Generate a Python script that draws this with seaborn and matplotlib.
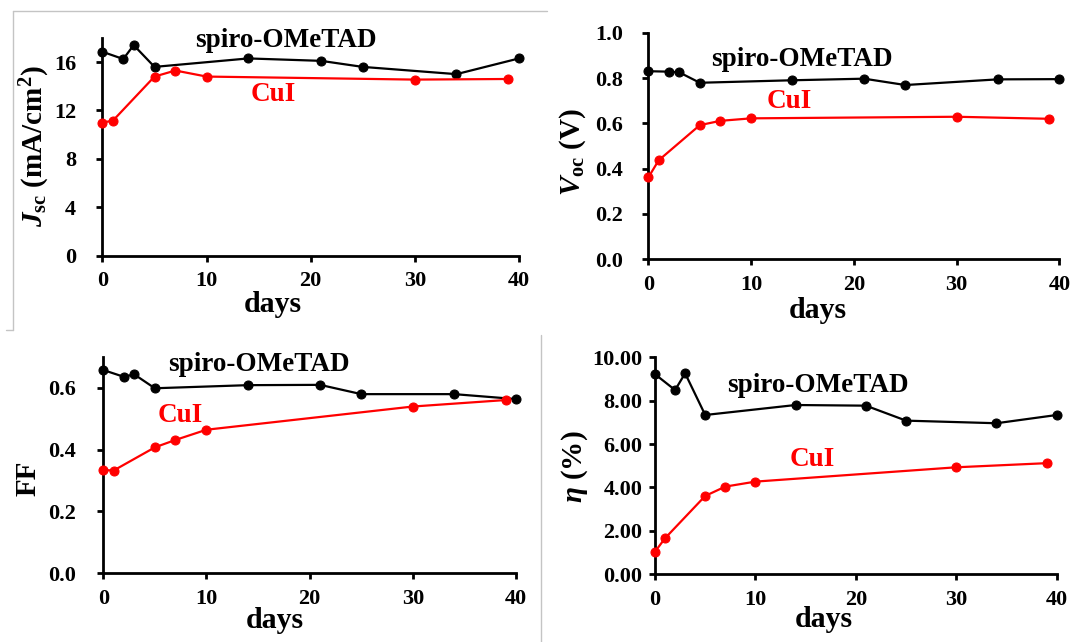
import matplotlib
matplotlib.use("Agg")
import matplotlib.pyplot as plt
import seaborn as sns
from matplotlib.lines import Line2D

# ---------------- data ----------------
spiro_days = [0, 2, 3, 5, 14, 21, 25, 34, 40]
cui_days = [0, 1, 5, 7, 10, 30, 39]

spiro_jsc = [16.85, 16.25, 17.4, 15.6, 16.3, 16.1, 15.6, 15.0, 16.3]
cui_jsc = [11.0, 11.15, 14.8, 15.3, 14.8, 14.55, 14.6]

spiro_voc = [0.83, 0.828, 0.825, 0.779, 0.79, 0.797, 0.769, 0.794, 0.795]
cui_voc = [0.362, 0.437, 0.592, 0.611, 0.622, 0.629, 0.62]

spiro_ff = [0.657, 0.635, 0.643, 0.598, 0.608, 0.609, 0.579, 0.579, 0.563]
cui_ff = [0.334, 0.332, 0.407, 0.431, 0.464, 0.539, 0.56]

spiro_eta = [9.22, 8.49, 9.26, 7.34, 7.80, 7.77, 7.08, 6.96, 7.34]
cui_eta = [1.04, 1.66, 3.61, 4.04, 4.27, 4.93, 5.12]

x_ticks = [0, 10, 20, 30, 40]
series_names = ["spiro-OMeTAD", "CuI"]

# ---------------- style ----------------
sns.set_style("white")
plt.rcParams["font.family"] = ["Liberation Serif", "DejaVu Serif"]
plt.rcParams["font.weight"] = "bold"
plt.rcParams["text.color"] = "black"
plt.rcParams["axes.labelcolor"] = "black"
plt.rcParams["mathtext.fontset"] = "custom"
plt.rcParams["mathtext.rm"] = "Liberation Serif:bold"
plt.rcParams["mathtext.it"] = "Liberation Serif:bold:italic"
plt.rcParams["mathtext.bf"] = "Liberation Serif:bold"

fig = plt.figure(figsize=(10.75, 6.42), dpi=100)
fig.patch.set_facecolor("white")

panels = [
    dict(rect=[0.0953, 0.602, 0.3874, 0.339], spiro=spiro_jsc, cui=cui_jsc,
         ylim=(0, 18), yticks=[0, 4, 8, 12, 16], fmt="{:.0f}",
         ylabel=r"$J_{\mathrm{sc}}$ (mA/cm$^{\mathrm{2}}$)", ylab=(-0.162, 0.5),
         ypad=14.5, spiro_txt=(17.6, 17.8), cui_txt=(16.4, 13.3), xlab=(0.41, -0.225)),
    dict(rect=[0.6032, 0.5961, 0.3823, 0.353], spiro=spiro_voc, cui=cui_voc,
         ylim=(0, 1.0), yticks=[0, 0.2, 0.4, 0.6, 0.8, 1.0], fmt="{:.1f}",
         ylabel=r"$V_{\mathrm{oc}}$ (V)", ylab=(-0.185, 0.475),
         ypad=14.0, spiro_txt=(14.9, 0.883), cui_txt=(13.7, 0.695), xlab=(0.413, -0.224)),
    dict(rect=[0.096, 0.107, 0.3842, 0.3374], spiro=spiro_ff, cui=cui_ff,
         ylim=(0, 0.7), yticks=[0, 0.2, 0.4, 0.6], fmt="{:.1f}",
         ylabel="FF", ylab=(-0.181, 0.44),
         ypad=15.0, spiro_txt=(15.1, 0.675), cui_txt=(7.5, 0.511), xlab=(0.415, -0.216)),
    dict(rect=[0.6093, 0.1055, 0.3737, 0.338], spiro=spiro_eta, cui=cui_eta,
         ylim=(0, 10), yticks=[0, 2, 4, 6, 8, 10], fmt="{:.2f}",
         ylabel=r"$\eta$ (%)", ylab=(-0.20, 0.496),
         ypad=4.5, spiro_txt=(16.25, 8.72), cui_txt=(15.7, 5.27), xlab=(0.419, -0.21)),
]

for p in panels:
    ax = fig.add_axes(p["rect"])
    ax.set_facecolor("none")
    sns.lineplot(x=spiro_days, y=p["spiro"], ax=ax, color="black", marker="o",
                 markersize=6.5, markeredgecolor="black", linewidth=1.6,
                 clip_on=False, zorder=3)
    sns.lineplot(x=cui_days, y=p["cui"], ax=ax, color="#ff0000", marker="o",
                 markersize=6.5, markeredgecolor="#ff0000", linewidth=1.6,
                 clip_on=False, zorder=3)
    ax.set_xlim(0, 40)
    ax.set_ylim(*p["ylim"])
    ax.set_xticks(x_ticks)
    ax.set_xticklabels([str(v) for v in x_ticks])
    ax.set_yticks(p["yticks"])
    ax.set_yticklabels([p["fmt"].format(v) for v in p["yticks"]])
    for s in ["top", "right"]:
        ax.spines[s].set_visible(False)
    for s in ["left", "bottom"]:
        ax.spines[s].set_linewidth(2.0)
        ax.spines[s].set_color("black")
    ax.tick_params(axis="both", which="major", direction="out", length=4.5,
                   width=2.0, color="black", labelsize=16, labelcolor="black")
    ax.tick_params(axis="y", pad=p["ypad"], left=True)
    ax.tick_params(axis="x", pad=6.5, bottom=True)
    for lab in ax.get_xticklabels() + ax.get_yticklabels():
        lab.set_fontweight("bold")
    ax.set_ylabel(p["ylabel"], fontsize=21, fontweight="bold", va="center", color="black")
    ax.yaxis.set_label_coords(*p["ylab"])
    ax.set_xlabel("days", fontsize=21.5, fontweight="bold", va="center", color="black")
    ax.xaxis.set_label_coords(*p["xlab"])
    ax.text(*p["spiro_txt"], series_names[0], ha="center", va="center",
            fontsize=19.5, fontweight="bold", color="black")
    ax.text(*p["cui_txt"], series_names[1], ha="center", va="center",
            fontsize=19.5, fontweight="bold", color="#ff0000")

# light gray panel borders from the composite screenshot
border = dict(color="#c4c4c4", linewidth=1.0, transform=fig.transFigure)
fig.add_artist(Line2D([0.01163, 0.5088], [0.9829, 0.9829], **border))
fig.add_artist(Line2D([0.01163, 0.01163], [0.9829, 0.486], **border))
fig.add_artist(Line2D([0.0056, 0.01163], [0.486, 0.486], **border))
fig.add_artist(Line2D([0.5033, 0.5033], [0.0, 0.478], **border))

fig.savefig("out.png", dpi=100, facecolor="white")
